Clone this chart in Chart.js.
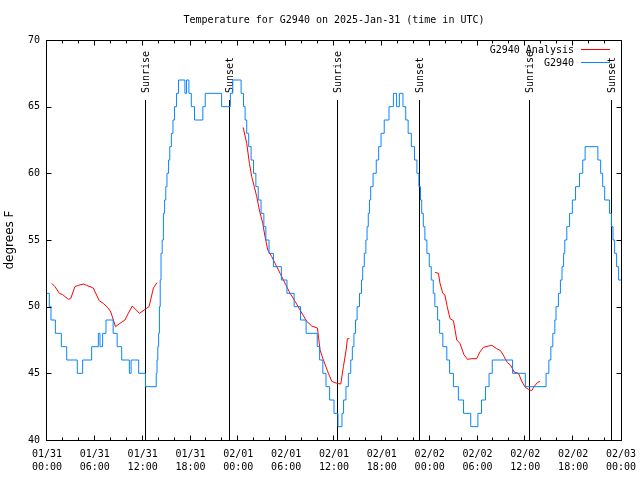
<!DOCTYPE html>
<html><head><meta charset="utf-8">
<script src="https://cdn.jsdelivr.net/npm/chart.js@4/dist/chart.umd.min.js"></script>
<style>html,body{margin:0;padding:0;background:#fff;}</style>
</head><body>
<canvas id="c" width="640" height="480"></canvas>
<script>
const chartTitle = 'Temperature for G2940 on 2025-Jan-31 (time in UTC)';
const yTitle = 'degrees F';
const xTickDates = ['01/31','01/31','01/31','01/31','02/01','02/01','02/01','02/01','02/02','02/02','02/02','02/02','02/03'];
const xTickTimes = ['00:00','06:00','12:00','18:00','00:00','06:00','12:00','18:00','00:00','06:00','12:00','18:00','00:00'];
const sunTimes = [12.35, 22.8, 36.4, 46.7, 60.4, 70.8];
const sunLabels = ['Sunrise','Sunset','Sunrise','Sunset','Sunrise','Sunset'];
const seriesNames = ['G2940 Analysis','G2940'];

// hours since 01/31 00:00 UTC
const obsTimes = [0,0.29,0.5,1.05,1.8,2.47,3.8,4.47,5.6,6.44,6.65,6.98,7.4,8.3,8.8,9.37,10.33,10.55,11.5,12.35,
13.7,13.8,13.9,14.0,14.1,14.2,14.3,14.45,14.6,14.75,14.9,15.05,15.25,15.4,15.6,15.8,16.0,16.25,16.5,17.3,17.5,17.8,18.1,18.5,19.55,19.85,21.9,23.0,23.3,
24.35,24.65,24.85,25.05,25.3,25.6,25.9,26.2,26.5,26.85,27.2,27.45,27.85,28.4,29.4,30.1,31.0,31.8,32.5,33.9,34.2,34.6,35.0,35.45,36.0,36.5,
37.0,37.2,37.5,37.8,38.1,38.3,38.5,38.7,38.9,39.2,39.45,39.6,39.8,40.0,40.15,40.3,40.45,40.6,40.9,41.3,41.6,41.9,42.3,42.9,43.45,43.85,44.2,44.65,
45.0,45.3,45.7,46.1,46.4,46.65,46.85,47.0,47.2,47.4,47.65,47.95,48.2,48.45,48.65,49.0,49.25,49.65,50.15,50.5,50.98,51.6,52.25,53.15,
54.05,54.5,55.0,55.45,55.85,58.4,60.0,62.6,62.95,63.2,63.45,63.7,63.85,64.15,64.4,64.6,64.8,64.95,65.2,65.55,65.9,66.3,66.8,67.2,67.5,
69.1,69.45,69.7,69.95,70.55,70.8,71.0,71.2,71.45,71.7,72.0];
const obsTemps = [51,50,49,48,47,46,45,46,47,48,47,48,49,48,47,46,45,46,45,44,
45,46,47,48,50,52,54,55,57,58,59,60,61,62,63,64,65,66,67,66,67,66,65,64,65,66,65,66,67,
66,65,64,63,62,61,60,59,58,57,56,55,54,53,52,51,50,49,48,47,46,45,44,43,42,41,
42,43,44,45,46,47,48,49,50,51,52,53,54,55,56,57,58,59,60,61,62,63,64,65,66,65,66,65,
64,63,62,61,60,59,58,57,56,55,54,53,52,51,50,49,48,47,46,45,44,43,42,41,
42,43,44,45,46,45,44,45,46,47,48,49,50,51,52,53,54,55,56,57,58,59,60,61,62,
61,60,59,58,57,56,55,54,53,52,52];

const analysisTimes = [0.59,1.0,1.55,1.97,2.68,2.97,3.5,3.93,4.56,4.97,5.8,6.55,7.05,7.68,8.0,8.6,9.15,9.78,10.2,10.7,11.2,11.6,12.3,12.8,13.35,13.8,
14.5,
24.6,25.05,25.39,25.68,26.0,26.31,26.64,27.06,27.35,27.69,28.19,28.61,29.24,29.65,30.49,31.12,31.74,32.58,33.21,33.92,34.25,34.67,35.3,35.72,36.35,36.85,37.18,37.52,37.68,37.93,
45.0,
48.68,49.1,49.3,49.65,49.9,50.2,50.56,50.98,51.4,51.8,52.3,52.74,53.3,53.9,54.3,54.74,55.4,55.8,56.4,56.9,57.34,57.75,58.17,58.6,59.14,59.56,59.98,60.4,60.8,61.1,61.5,61.85];
const analysisTemps = [51.75,51.5,51.0,50.9,50.55,50.6,51.5,51.6,51.7,51.6,51.4,50.45,50.25,49.9,49.6,48.5,48.75,49.0,49.5,50.05,49.75,49.5,49.8,50.0,51.4,51.8,
null,
63.45,62.25,60.75,59.75,59.0,58.25,57.25,56.25,55.25,54.25,53.75,53.25,52.5,52.0,51.0,50.4,49.75,48.9,48.55,48.4,46.75,46.0,45.0,44.4,44.25,44.2,45.5,46.75,47.6,47.6,
null,
52.57,52.5,51.75,51.0,50.9,50.0,49.1,48.95,47.5,47.25,46.4,46.05,46.1,46.1,46.6,46.95,47.05,47.1,46.85,46.7,46.25,45.8,45.6,45.1,45.0,44.4,43.95,43.8,43.7,44.0,44.3,44.4];

const MONO = '"DejaVu Sans Mono", "Liberation Mono", monospace';
const RED = '#ff0000';
const BLUE = '#0a84ff';

const frame = {
  id: 'frame',
  beforeDatasetsDraw(chart) {
    const {ctx, chartArea: a, scales: {x}} = chart;
    ctx.save();
    ctx.strokeStyle = '#000'; ctx.lineWidth = 1; ctx.fillStyle = '#000';
    ctx.font = '10px ' + MONO;
    const topY = a.bottom - 0.85 * (a.bottom - a.top);
    sunTimes.forEach((t, i) => {
      const px = Math.round(x.getPixelForValue(t)) + 0.5;
      ctx.beginPath(); ctx.moveTo(px, topY); ctx.lineTo(px, a.bottom); ctx.stroke();
      ctx.save();
      ctx.translate(px + 1, topY - 7);
      ctx.rotate(-Math.PI / 2);
      ctx.textAlign = 'left'; ctx.textBaseline = 'middle';
      ctx.fillText(sunLabels[i], 0, 0);
      ctx.restore();
    });
    ctx.restore();
  },
  afterDatasetsDraw(chart) {
    const {ctx, chartArea: a, scales: {x, y}} = chart;
    ctx.save();
    ctx.strokeStyle = '#000'; ctx.lineWidth = 1;
    const L = a.left - 0.5, R = a.right + 0.5, T = a.top + 0.5, B = a.bottom + 0.5;
    ctx.strokeRect(L, T, R - L, B - T);
    ctx.beginPath();
    for (let h = 2; h < 72; h += 2) {
      const px = Math.round(x.getPixelForValue(h)) - 0.5;
      const len = (h % 6 === 0) ? 5 : 3;
      ctx.moveTo(px, B); ctx.lineTo(px, B - len);
      ctx.moveTo(px, T); ctx.lineTo(px, T + len);
    }
    for (let v = 45; v < 70; v += 5) {
      const py = Math.round(y.getPixelForValue(v)) + 0.5;
      ctx.moveTo(L, py); ctx.lineTo(L + 5, py);
      ctx.moveTo(R, py); ctx.lineTo(R - 5, py);
    }
    ctx.stroke();
    // key
    ctx.font = '10px ' + MONO; ctx.fillStyle = '#000';
    ctx.textAlign = 'right'; ctx.textBaseline = 'middle';
    chart.data.datasets.forEach((ds, i) => {
      const cy = 50 + i * 13;
      ctx.fillText(ds.label, 574, cy);
      ctx.strokeStyle = ds.borderColor;
      ctx.beginPath(); ctx.moveTo(581, cy - 0.5); ctx.lineTo(610, cy - 0.5); ctx.stroke();
    });
    ctx.restore();
  }
};

new Chart(document.getElementById('c'), {
  type: 'line',
  data: {
    datasets: [
      { label: seriesNames[0], data: analysisTimes.map((t, i) => ({x: t, y: analysisTemps[i]})),
        borderColor: RED, borderWidth: 1, pointRadius: 0, tension: 0, spanGaps: false, order: 2 },
      { label: seriesNames[1], data: obsTimes.map((t, i) => ({x: t, y: obsTemps[i]})),
        borderColor: BLUE, borderWidth: 1, pointRadius: 0, stepped: true, order: 1 }
    ]
  },
  options: {
    responsive: false, animation: false, devicePixelRatio: 1, events: [],
    layout: { padding: { left: 0, right: 19, top: 0, bottom: 0 } },
    plugins: {
      legend: { display: false },
      tooltip: { enabled: false },
      title: { display: true, text: chartTitle, fullSize: false, color: '#000',
        font: { family: MONO, size: 10, weight: 'normal', lineHeight: 1.2 },
        padding: { top: 14, bottom: 14 } }
    },
    scales: {
      x: {
        type: 'linear', min: 0, max: 72,
        grid: { display: false, drawTicks: false }, border: { display: false },
        ticks: { stepSize: 6, autoSkip: false, maxRotation: 0, minRotation: 0, color: '#000', padding: 8,
          font: { family: MONO, size: 10, lineHeight: 1.3 },
          callback: (v) => { const i = Math.round(v / 6); return [xTickDates[i], xTickTimes[i]]; } },
        afterFit: (s) => { s.height = 40; s.paddingLeft = 0; s.paddingRight = 0; }
      },
      y: {
        min: 40, max: 70,
        grid: { display: false, drawTicks: false }, border: { display: false },
        ticks: { stepSize: 5, color: '#000', padding: 7, font: { family: MONO, size: 10 } },
        title: { display: true, text: yTitle, color: '#000', font: { family: '"DejaVu Sans"', size: 12 },
          padding: { top: 3, bottom: 0 } },
        afterFit: (s) => { s.width = 47; s.paddingTop = 0; s.paddingBottom = 0; }
      }
    }
  },
  plugins: [frame]
});
</script>
</body></html>
